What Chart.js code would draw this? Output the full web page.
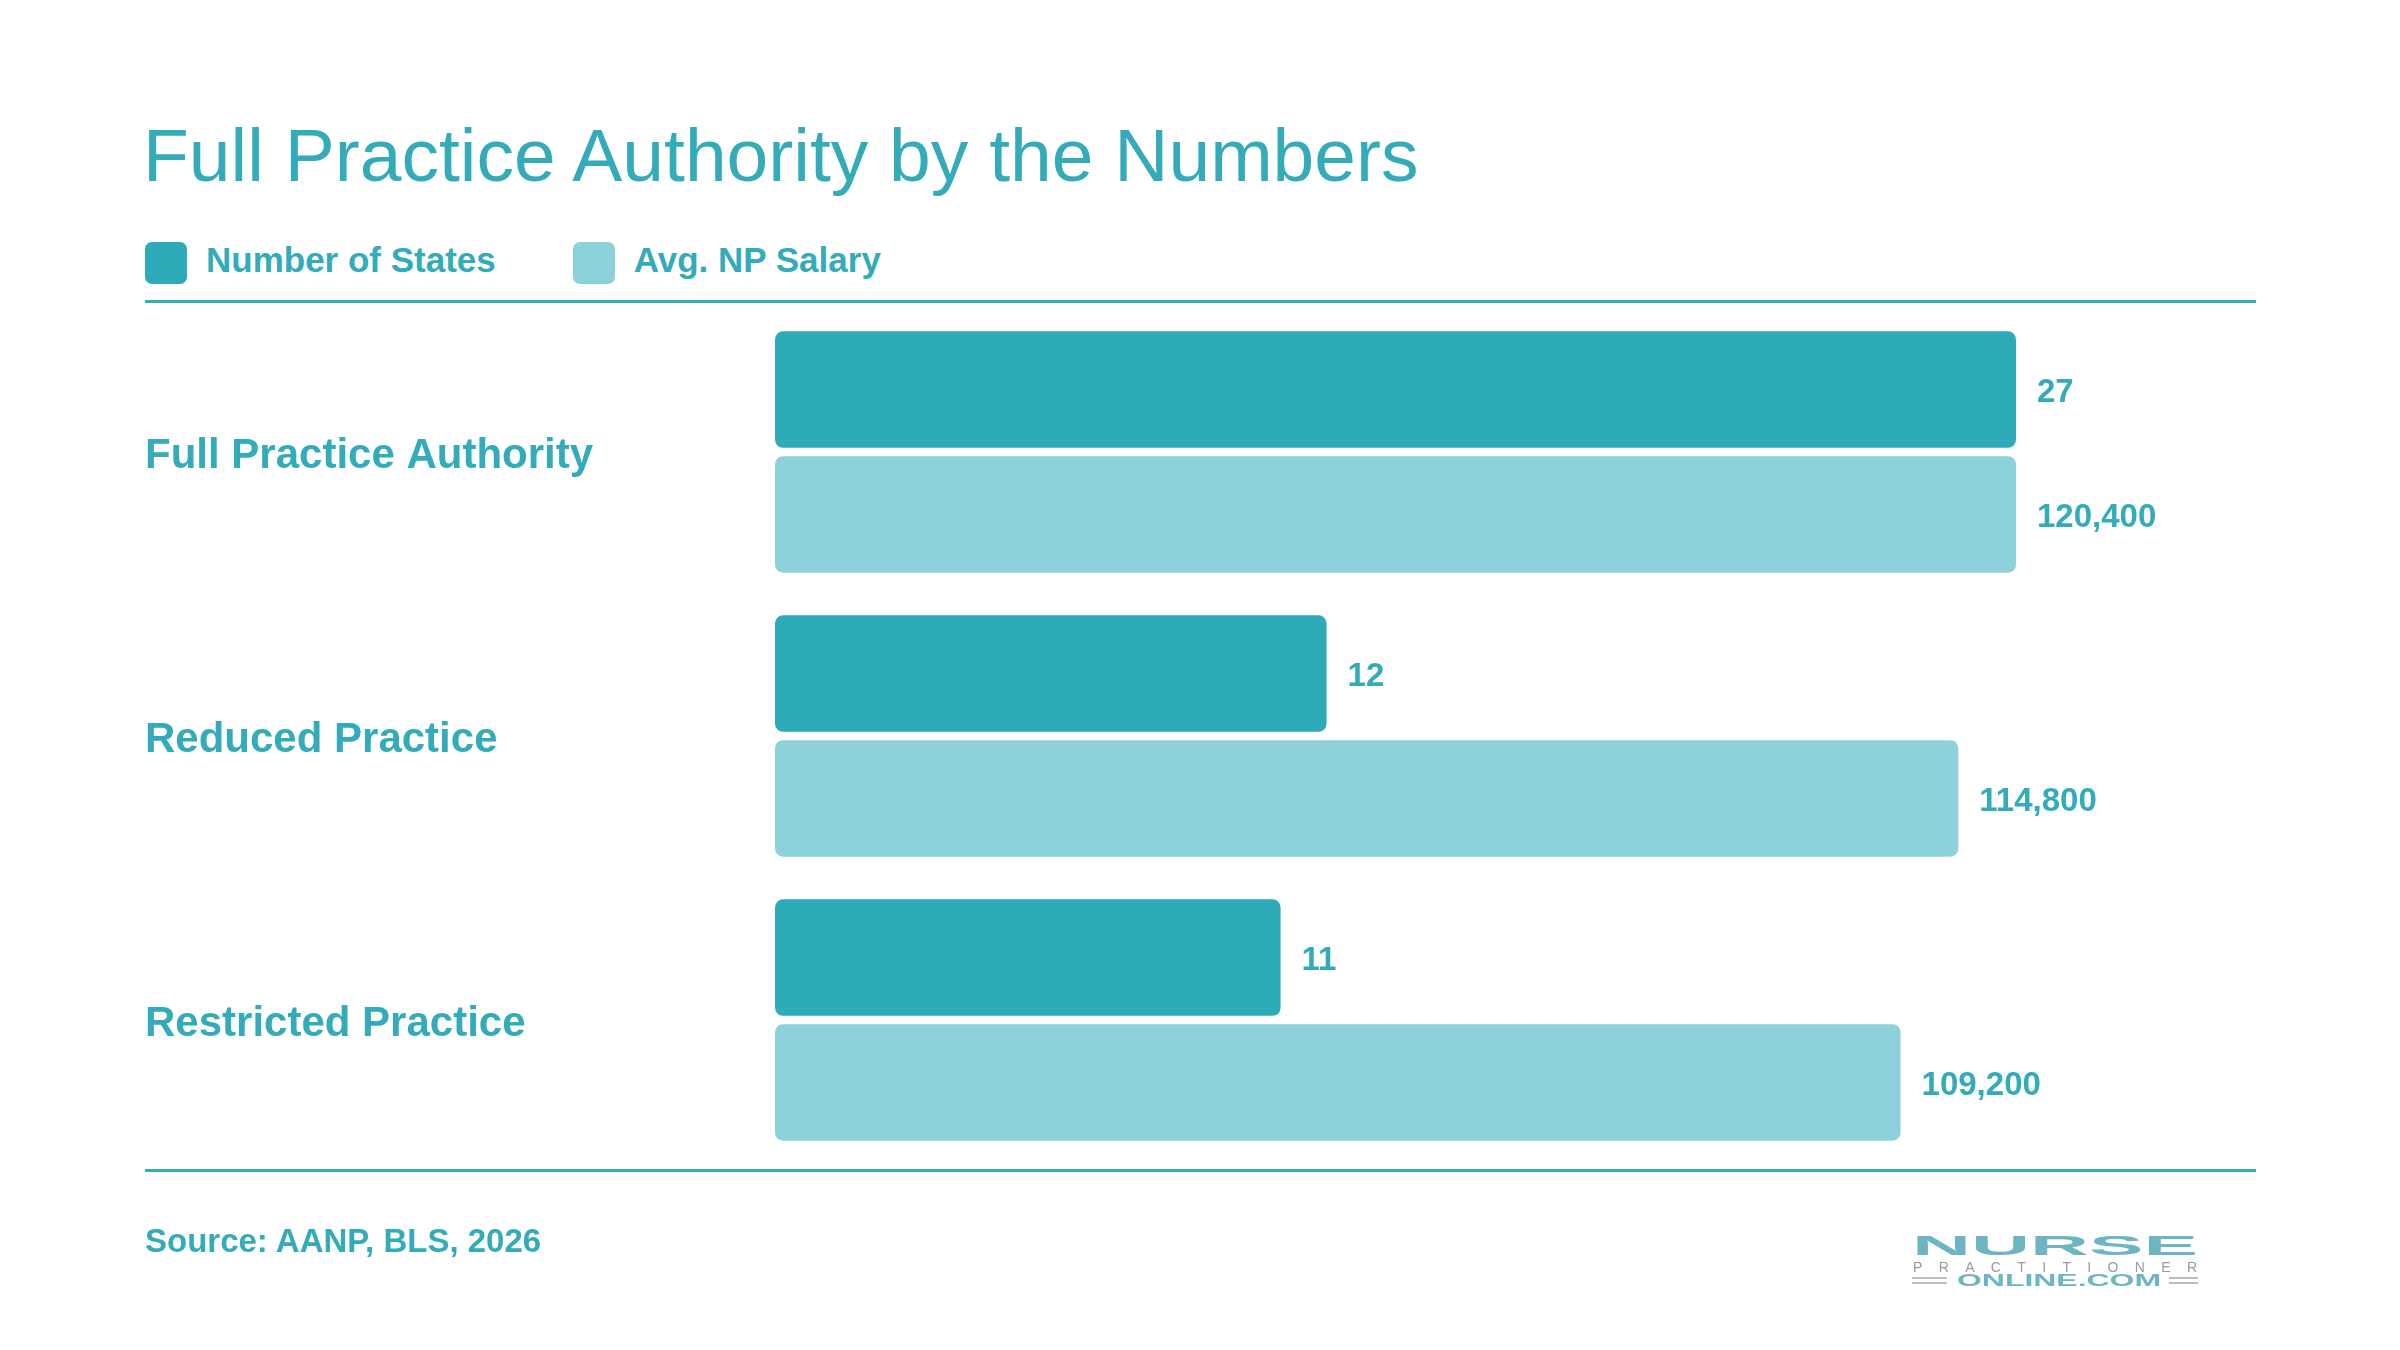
<!DOCTYPE html>
<html>
<head>
<meta charset="utf-8">
<script src="https://cdn.jsdelivr.net/npm/chart.js@4.4.1/dist/chart.umd.min.js"></script>
<style>
  html, body { margin:0; padding:0; background:#fff; }
  body { width:2400px; height:1350px; position:relative; overflow:hidden; font-family:"Liberation Sans", Arial, Helvetica, sans-serif; color:#33abb8; }
  #title { position:absolute; left:143px; top:118px; font-size:75px; font-weight:400; line-height:1; white-space:nowrap; }
  #legend { position:absolute; left:145px; top:242px; height:42px; display:flex; align-items:center; }
  .lg-item { display:flex; align-items:center; margin-right:0; }
  .lg-box { width:42px; height:42px; border-radius:7px; }
  .lg-text { font-size:35px; font-weight:700; margin-left:19px; white-space:nowrap; position:relative; top:-3px; }
  .rule { position:absolute; left:145px; width:2111px; height:3px; background:#35adb9; }
  #source { position:absolute; left:145px; top:1224px; font-size:33px; font-weight:700; line-height:1; white-space:nowrap; }
  #chartBox { position:absolute; left:0; top:0; width:2400px; height:1350px; }
  #logo { position:absolute; left:1905px; top:1228px; }
</style>
</head>
<body>
<div id="title">Full Practice Authority by the Numbers</div>
<div id="legend"></div>
<div class="rule" style="top:300px"></div>
<div class="rule" style="top:1169px"></div>
<div id="chartBox"><canvas id="chart"></canvas></div>
<div id="source">Source: AANP, BLS, 2026</div>
<svg id="logo" width="300" height="65" xmlns="http://www.w3.org/2000/svg">
  <text x="7" y="27" font-family="Liberation Sans, Arial" font-weight="700" font-size="28" fill="#6db6c1" textLength="286" lengthAdjust="spacingAndGlyphs">NURSE</text>
  <text x="8" y="43.5" font-family="Liberation Sans, Arial" font-size="14" fill="#9a9a9a" textLength="284" lengthAdjust="spacing">PRACTITIONER</text>
  <line x1="7" y1="50" x2="42" y2="50" stroke="#aaa" stroke-width="1.6"/>
  <line x1="7" y1="55" x2="42" y2="55" stroke="#aaa" stroke-width="1.6"/>
  <line x1="264" y1="50" x2="293" y2="50" stroke="#aaa" stroke-width="1.6"/>
  <line x1="264" y1="55" x2="293" y2="55" stroke="#aaa" stroke-width="1.6"/>
  <text x="52" y="58" font-family="Liberation Sans, Arial" font-weight="700" font-size="16" fill="#6db6c1" textLength="204" lengthAdjust="spacingAndGlyphs">ONLINE.COM</text>
</svg>

<script>
// Chart data
const categories = ['Full Practice Authority', 'Reduced Practice', 'Restricted Practice'];
const seriesNames = ['Number of States', 'Avg. NP Salary'];
const numStates = [27, 12, 11];
const avgSalary = [120400, 114800, 109200];

const textColor = '#33abb8';
const darkTeal = '#2eabb8';
const lightTeal = '#8dd1da';
const FONT = '"Liberation Sans", Arial, Helvetica, sans-serif';

function buildLegend(){
  const colors = [darkTeal, lightTeal];
  const el = document.getElementById('legend');
  let html = '';
  seriesNames.forEach((name, i) => {
    html += `<div class="lg-item" style="margin-right:${i === 0 ? 77 : 0}px">
      <div class="lg-box" style="background:${colors[i]}"></div>
      <div class="lg-text">${name}</div></div>`;
  });
  el.innerHTML = html;
}

// value labels at the end of each bar
const valueLabels = {
  id: 'valueLabels',
  afterDatasetsDraw(chart){
    const ctx = chart.ctx;
    ctx.save();
    ctx.fillStyle = textColor;
    ctx.font = `bold 33px ${FONT}`;
    ctx.textAlign = 'left';
    ctx.textBaseline = 'middle';
    chart.data.datasets.forEach((ds, di) => {
      const meta = chart.getDatasetMeta(di);
      meta.data.forEach((bar, i) => {
        const v = ds.data[i];
        const txt = di === 1 ? v.toLocaleString('en-US') : String(v);
        ctx.fillText(txt, bar.x + 21, bar.y + 3);
      });
    });
    ctx.restore();
  }
};

function initChart(){
  const ctx = document.getElementById('chart').getContext('2d');
  new Chart(ctx, {
    type: 'bar',
    data: {
      labels: categories,
      datasets: [
        { label: seriesNames[0], data: numStates, xAxisID: 'xStates', backgroundColor: darkTeal, borderRadius: 8, borderSkipped: false, categoryPercentage: 0.88, barPercentage: 0.932 },
        { label: seriesNames[1], data: avgSalary, xAxisID: 'xSalary', backgroundColor: lightTeal, borderRadius: 8, borderSkipped: false, categoryPercentage: 0.88, barPercentage: 0.932 }
      ]
    },
    options: {
      indexAxis: 'y',
      responsive: false,
      animation: false,
      layout: { padding: { left: 145, right: 384, top: 310, bottom: 188 } },
      scales: {
        y: {
          grid: { display: false },
          border: { display: false },
          ticks: { crossAlign: 'far', padding: 0, labelOffset: 4, color: textColor, font: { family: FONT, size: 42, weight: 'bold' } },
          afterFit(scale){ scale.width = 630; }
        },
        xStates: { type: 'linear', display: false, min: 0, max: Math.max(...numStates) },
        xSalary: { type: 'linear', display: false, min: 0, max: Math.max(...avgSalary) }
      },
      plugins: { legend: { display: false }, tooltip: { enabled: false } }
    },
    plugins: [valueLabels]
  });
}

document.addEventListener('DOMContentLoaded', () => {
  const c = document.getElementById('chart');
  c.width = 2400; c.height = 1350;
  c.style.width = '2400px'; c.style.height = '1350px';
  buildLegend();
  initChart();
});
</script>
</body>
</html>
